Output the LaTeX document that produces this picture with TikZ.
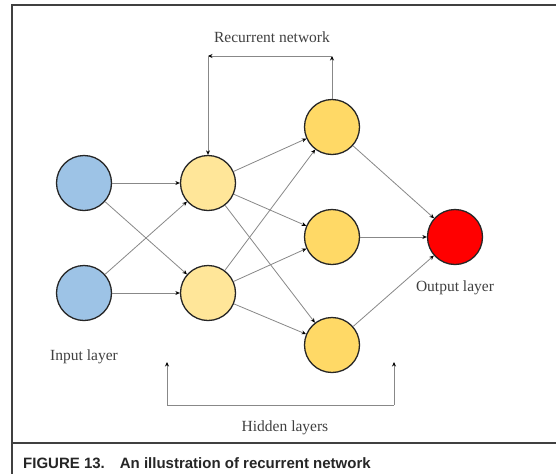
\documentclass[tikz,border=0pt]{standalone}
\usepackage{fontspec}
\setmainfont{Liberation Serif}
\newfontfamily\capfont{Liberation Sans}
\usetikzlibrary{arrows.meta}
\definecolor{inblue}{HTML}{9DC3E6}
\definecolor{hidA}{HTML}{FFE699}
\definecolor{hidB}{HTML}{FFD966}
\definecolor{outred}{HTML}{FF0000}
\definecolor{txtgray}{HTML}{404040}
\definecolor{edgegray}{HTML}{888888}
\tikzset{
  neuron/.style={circle, draw=black!85, line width=1.3pt, minimum size=55pt, inner sep=0pt},
  edge/.style={draw=edgegray, line width=0.8pt, -{Stealth[length=4.5pt,width=4pt,black]}},
  plainedge/.style={draw=edgegray, line width=0.8pt},
  lbl/.style={text=txtgray, font=\fontsize{15.5}{18}\selectfont, inner sep=0pt},
  frame/.style={draw=black!75, line width=1.1pt}
}
\begin{document}
\begin{tikzpicture}[x=1pt,y=-1pt]
\useasboundingbox (0,0) rectangle (556,474);
\fill[white] (0,0) rectangle (556,474);
% frame
\draw[frame] (556,5) -- (12,5) -- (12,474);
\draw[frame] (12,443) -- (556,443);
% nodes
\node[neuron, fill=inblue] (i1) at (84,183) {};
\node[neuron, fill=inblue] (i2) at (84,293) {};
\node[neuron, fill=hidA] (h1) at (208,183) {};
\node[neuron, fill=hidA] (h2) at (208,293) {};
\node[neuron, fill=hidB] (g1) at (332,127) {};
\node[neuron, fill=hidB] (g2) at (332,237) {};
\node[neuron, fill=hidB] (g3) at (332,345) {};
\node[neuron, fill=outred] (o) at (455,237) {};
% edges
\foreach \a in {i1,i2}{\foreach \b in {h1,h2}{\draw[edge] (\a) -- (\b);}}
\foreach \a in {h1,h2}{\foreach \b in {g1,g2,g3}{\draw[edge] (\a) -- (\b);}}
\foreach \a in {g1,g2,g3}{\draw[edge] (\a) -- (o);}
% recurrent loop
\coordinate (rr) at (332,56);
\coordinate (rl) at (208,56);
\draw[edge] (g1.north) -- (rr);
\draw[edge] (rr) -- (rl);
\draw[edge] (rl) -- (h1.north);
\node[lbl] (rtxt) at (272,37) {Recurrent network};
% hidden bracket
\coordinate (bl) at (167,405);
\coordinate (br) at (394,405);
\coordinate (blt) at (167,362);
\coordinate (brt) at (394,362);
\draw[edge] (bl) -- (blt);
\draw[edge] (br) -- (brt);
\draw[plainedge] (bl) -- (br);
\node[lbl] (htxt) at (285,428) {Hidden layers};
\node[lbl] (itxt) at (84,357) {Input layer};
\node[lbl] (otxt) at (455,288) {Output layer};
% caption
\node[anchor=west, inner sep=0pt, text=black!85, font=\capfont\bfseries\fontsize{15}{17}\selectfont] (cap) at (23,463) {FIGURE 13.\quad An illustration of recurrent network};
\end{tikzpicture}
\end{document}
